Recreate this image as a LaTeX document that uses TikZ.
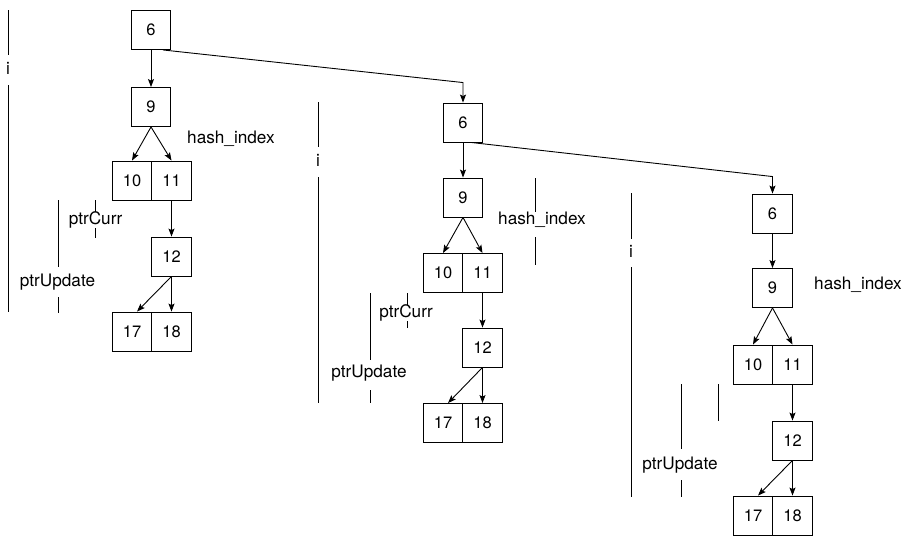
\documentclass[tikz,border=0pt]{standalone}
\usepackage{fontspec}
\setmainfont{TeX Gyre Heros}
\usetikzlibrary{arrows.meta,calc}
\tikzset{
  box/.style={draw, line width=0.9pt, minimum width=39.5pt, minimum height=39pt, inner sep=0pt, font=\fontsize{16.5}{20}\selectfont},
  lbl/.style={inner sep=0pt, font=\fontsize{17.2}{20}\selectfont},
  arr/.style={line width=0.9pt, -{Stealth[length=8pt,width=6pt,inset=1.5pt]}},
  bar/.style={line width=0.9pt},
}
\begin{document}
\begin{tikzpicture}[x=1pt,y=-1pt]
\useasboundingbox (0,0) rectangle (903,536);

% ---------- tree 1 ----------
\node[box] (a6)  at (151,30)    {6};
\node[box] (a9)  at (151,107)   {9};
\node[box] (a10) at (132,180.5) {10};
\node[box] (a11) at (171.5,180.5) {11};
\node[box] (a12) at (171.5,256.5) {12};
\node[box] (a17) at (132,331.5) {17};
\node[box] (a18) at (171.5,331.5) {18};
\draw[arr] (a6) -- (a9);
\draw[arr] (a9.south) -- (a10.north);
\draw[arr] (a9.south) -- (a11.north);
\draw[arr] (a11) -- (a12);
\draw[arr] (a12.south) -- ($(a17.north)+(5,0)$);
\draw[arr] (a12.south) -- (a18.north);
% labels and bars
\draw[bar] (8,10) -- (8,55);
\node[lbl] (ai) at (8,68) {i};
\draw[bar] (8,85) -- (8,312);
\draw[bar] (58,200) -- (58,267);
\node[lbl] (aup) at (57.5,282) {ptrUpdate};
\draw[bar] (58,297) -- (58,313);
\node[lbl] (acur) at (95.5,220) {ptrCurr};
\draw[bar] (95,200) -- (95,212);
\draw[bar] (95,228) -- (95,238);
\node[lbl, anchor=west] (ahash) at (187,139) {hash\_index};

% ---------- tree 2 ----------
\node[box] (b6)  at (463,122.5) {6};
\node[box] (b9)  at (463,197.5) {9};
\node[box] (b10) at (443,273)   {10};
\node[box] (b11) at (482.5,273) {11};
\node[box] (b12) at (482.5,347.5) {12};
\node[box] (b17) at (443,423)   {17};
\node[box] (b18) at (482.5,423) {18};
\draw[arr] (b6) -- (b9);
\draw[arr] (b9.south) -- (b10.north);
\draw[arr] (b9.south) -- (b11.north);
\draw[arr] (b11) -- (b12);
\draw[arr] (b12.south) -- ($(b17.north)+(5,0)$);
\draw[arr] (b12.south) -- (b18.north);
\draw[bar] (318,102) -- (318,147);
\node[lbl] (bi) at (318,160) {i};
\draw[bar] (318,177) -- (318,403);
\draw[bar] (370,293) -- (370,360);
\node[lbl] (bup) at (369,373) {ptrUpdate};
\draw[bar] (370,390) -- (370,403);
\node[lbl] (bcur) at (406,313) {ptrCurr};
\draw[bar] (407,293) -- (407,305);
\draw[bar] (407,321) -- (407,328);
\node[lbl, anchor=west] (bhash) at (498,220) {hash\_index};
\draw[bar] (535,178) -- (535,212);
\draw[bar] (535,237) -- (535,265);

% ---------- tree 3 ----------
\node[box] (c6)  at (772.5,213.5) {6};
\node[box] (c9)  at (772.5,288)   {9};
\node[box] (c10) at (753,364.5)   {10};
\node[box] (c11) at (792.5,364.5) {11};
\node[box] (c12) at (792.5,440.5) {12};
\node[box] (c17) at (753,515.5)   {17};
\node[box] (c18) at (792.5,515.5) {18};
\draw[arr] (c6) -- (c9);
\draw[arr] (c9.south) -- (c10.north);
\draw[arr] (c9.south) -- (c11.north);
\draw[arr] (c11) -- (c12);
\draw[arr] (c12.south) -- ($(c17.north)+(5,0)$);
\draw[arr] (c12.south) -- (c18.north);
\draw[bar] (631,193) -- (631,239);
\node[lbl] (ci) at (631,251) {i};
\draw[bar] (631,267) -- (631,497);
\draw[bar] (681,384) -- (681,449);
\node[lbl] (cup) at (680,465) {ptrUpdate};
\draw[bar] (681,480) -- (681,497);
\draw[bar] (718,384) -- (718,421);
\node[lbl, anchor=west] (chash) at (814,285) {hash\_index};

% ---------- links between trees ----------
\draw[arr] ($(a6.south)+(12,0)$) -- ($(b6.north)+(0,-20)$) -- (b6.north);
\draw[arr] ($(b6.south)+(8,0)$) -- ($(c6.north)+(0,-17)$) -- (c6.north);
\end{tikzpicture}
\end{document}
